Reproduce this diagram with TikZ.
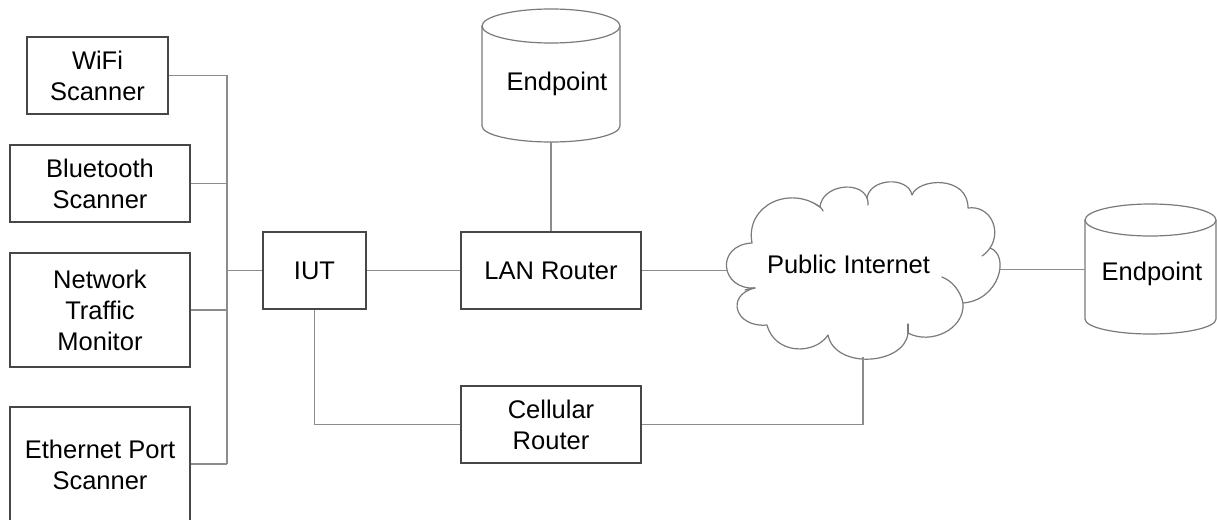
\documentclass[tikz,border=0pt]{standalone}
\usepackage{fontspec}
\setmainfont{Liberation Sans}
\begin{document}
\begin{tikzpicture}[x=1pt,y=1pt]
\tikzset{
  lbl/.style={font=\fontsize{25.5}{31}\selectfont, text=black, align=center, inner sep=0pt},
  box/.style={lbl, draw=black!72, line width=1.3pt, rectangle},
  conn/.style={draw=black!45, line width=1.3pt},
  outline/.style={draw=black!52, line width=1.2pt},
  anchorbox/.style={inner sep=0pt, rectangle}
}
\useasboundingbox (0,0) rectangle (1217,-519);
\clip (0,0) rectangle (1217,-519);
\fill[white] (0,0) rectangle (1217,-519);

% left column
\node[box, minimum width=141pt, minimum height=77pt] (wifi) at (97.5,-75.5) {WiFi\\Scanner};
\node[box, minimum width=180pt, minimum height=77pt] (bt) at (100,-183.5) {Bluetooth\\Scanner};
\node[box, minimum width=180pt, minimum height=114pt] (ntm) at (100,-310) {Network\\Traffic\\Monitor};
\node[box, minimum width=180pt, minimum height=116pt] (eth) at (100,-465) {Ethernet Port\\Scanner};

% middle
\node[box, minimum width=103pt, minimum height=77pt] (iut) at (314.5,-270.5) {IUT};
\node[box, minimum width=180pt, minimum height=77pt] (lan) at (551,-270.5) {LAN Router};
\node[box, minimum width=180pt, minimum height=77pt] (cell) at (551,-424.5) {Cellular\\Router};

% top endpoint cylinder
\node[anchorbox, minimum width=138pt, minimum height=133pt] (ep1) at (551,-75.5) {};
\draw[outline] (482,-26) -- (482,-126) arc[start angle=180,end angle=360,x radius=69,y radius=16] -- (620,-26);
\draw[outline] (551,-26) ellipse [x radius=69, y radius=17];
\node[lbl, anchor=base] (ep1t) at (557,-90) {Endpoint};

% right endpoint cylinder
\node[anchorbox, minimum width=131pt, minimum height=130pt] (ep2) at (1150.5,-269) {};
\draw[outline] (1085,-220) -- (1085,-319) arc[start angle=180,end angle=360,x radius=65.5,y radius=15] -- (1216,-220);
\draw[outline] (1150.5,-220) ellipse [x radius=65.5, y radius=16];
\node[lbl, anchor=base] (ep2t) at (1152,-280) {Endpoint};

% cloud
\draw[outline, line join=round]
  (752,-243)
  .. controls (745,-205) and (790,-185) .. (820,-207)
  .. controls (822,-185) and (860,-180) .. (867,-198)
  .. controls (870,-178) and (908,-176) .. (912,-195)
  .. controls (918,-178) and (968,-175) .. (968,-208)
  .. controls (990,-205) and (1002,-230) .. (990,-248)
  .. controls (1010,-255) and (1000,-300) .. (963,-303)
  .. controls (965,-330) and (930,-345) .. (908,-333)
  .. controls (905,-365) and (835,-370) .. (828,-335)
  .. controls (815,-355) and (775,-355) .. (767,-325)
  .. controls (735,-328) and (725,-295) .. (755,-288)
  .. controls (720,-290) and (715,-245) .. (752,-243) -- cycle;
% small inner hooks of the cloud
\draw[outline, line cap=round] (815,-204) .. controls (819,-206) and (822,-208) .. (823,-211);
\draw[outline, line cap=round] (867,-198) .. controls (868,-200) and (868,-202) .. (868,-205);
\draw[outline, line cap=round] (990,-248) .. controls (988,-251) and (985,-254) .. (982,-256);
\draw[outline, line cap=round] (942,-277) .. controls (952,-281) and (960,-290) .. (963,-303);
\draw[outline, line cap=round] (908,-333) .. controls (908,-330) and (908,-327) .. (908,-324);
\draw[outline, line cap=round] (755,-288) .. controls (751,-288) and (748,-289) .. (745,-290);
\node[lbl, anchor=base] (net) at (848.5,-273) {Public Internet};
\coordinate (cloudW) at (727,-270.5);
\coordinate (cloudE) at (999.7,-269.6);
\coordinate (cloudS) at (863,-357);

% bus
\coordinate (bus) at (227,-464);
\draw[conn] (wifi.east) -| (bus);
\draw[conn] (bt.east) -- (bt.east -| bus);
\draw[conn] (ntm.east) -- (ntm.east -| bus);
\draw[conn] (eth.east |- bus) -- (bus);
\draw[conn] (iut.west) -- (iut.west -| bus);

% other connectors
\draw[conn] (iut.east) -- (lan.west);
\draw[conn] (lan.north) -- (ep1.south);
\draw[conn] (lan.east) -- (cloudW);
\draw[conn] (cloudE) -- (ep2.west |- cloudE);
\draw[conn] (iut.south) |- (cell.west);
\draw[conn] (cloudS) |- (cell.east);
\end{tikzpicture}
\end{document}
